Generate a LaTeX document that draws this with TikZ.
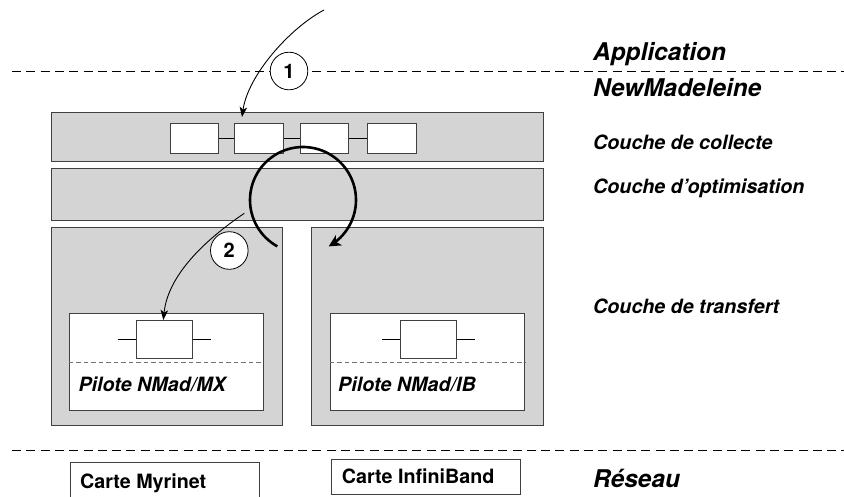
\documentclass[tikz,border=0pt]{standalone}
\usepackage{fontspec}
\setmainfont{TeX Gyre Heros}
\usetikzlibrary{arrows.meta}
\begin{document}
\begin{tikzpicture}[x=1pt,y=-1pt,
  bar/.style={draw=black!75, line width=0.8pt, fill=black!17, inner sep=0pt},
  wbox/.style={draw=black!75, line width=0.8pt, fill=white, inner sep=0pt},
  sep/.style={draw=black, line width=0.8pt, dash pattern=on 9pt off 5.3pt},
  insep/.style={draw=black!55, line width=0.7pt, dash pattern=on 4.5pt off 3pt},
  link/.style={draw=black, line width=0.7pt},
  lab/.style={inner sep=0pt, anchor=base west, font=\fontsize{24.4}{28}\selectfont\bfseries\itshape},
  sublab/.style={inner sep=0pt, anchor=base west, font=\fontsize{19.7}{24}\selectfont\bfseries\itshape},
  cardtxt/.style={inner sep=0pt, anchor=base west, font=\fontsize{19.7}{24}\selectfont\bfseries},
  numc/.style={circle, draw=black, line width=0.8pt, fill=white, minimum size=37.6pt, inner sep=0pt, font=\fontsize{20}{24}\selectfont\bfseries},
  thinarrow/.style={draw=black, line width=0.9pt, -{Stealth[length=10pt,width=7.5pt,inset=2.5pt]}},
  thickarrow/.style={draw=black, line width=2.6pt, -{Stealth[length=12pt,width=12pt,inset=3.5pt]}}
]
\useasboundingbox (0,0) rectangle (844,496);

% separators
\coordinate (d1l) at (12,71);
\coordinate (d1r) at (844,71);
\coordinate (d2l) at (12,450.5);
\coordinate (d2r) at (844,450.5);
\draw[sep] (d1l) -- (d1r);
\draw[sep] (d2l) -- (d2r);

% layer bars
\node[bar, minimum width=492pt, minimum height=49pt] (collecte) at (297,136.5) {};
\node[bar, minimum width=492pt, minimum height=52.5pt] (optim) at (297,194.25) {};
\node[bar, minimum width=231pt, minimum height=197.5pt] (trL) at (166.5,326.25) {};
\node[bar, minimum width=231.5pt, minimum height=197.5pt] (trR) at (427.25,326.25) {};

% collect boxes
\node[wbox, minimum width=48.7pt, minimum height=30pt] (b1) at (194.3,138.3) {};
\node[wbox, minimum width=48.7pt, minimum height=30pt] (b2) at (259,138.3) {};
\node[wbox, minimum width=48.7pt, minimum height=30pt] (b3) at (324.5,138.3) {};
\node[wbox, minimum width=48.7pt, minimum height=30pt] (b4) at (391.7,138.3) {};
\draw[link] (b1) -- (b2);
\draw[link] (b2) -- (b3);
\draw[link] (b3) -- (b4);

% driver boxes
\node[wbox, minimum width=194pt, minimum height=97.4pt] (drvL) at (166.3,362) {};
\node[wbox, minimum width=194.3pt, minimum height=97.4pt] (drvR) at (427.2,362) {};
\draw[insep] (drvL.west) -- (drvL.east);
\draw[insep] (drvR.west) -- (drvR.east);

\node[wbox, minimum width=55.6pt, minimum height=37.6pt] (qL) at (164.5,339.5) {};
\node[wbox, minimum width=56pt, minimum height=37.6pt] (qR) at (428.7,339.5) {};
\coordinate (qLa) at (117.7,339.5);
\coordinate (qLb) at (211,339.5);
\coordinate (qRa) at (382.3,339.5);
\coordinate (qRb) at (475,339.5);
\draw[link] (qLa) -- (qL.west);
\draw[link] (qL.east) -- (qLb);
\draw[link] (qRa) -- (qR.west);
\draw[link] (qR.east) -- (qRb);

\node[sublab] (pMX) at (78.3,391.7) {Pilote NMad/MX};
\node[sublab] (pIB) at (338,391.7) {Pilote NMad/IB};

% cards
\node[wbox, minimum width=188.6pt, minimum height=38pt] (cMy) at (165,481.3) {};
\node[wbox, minimum width=189pt, minimum height=35pt] (cIB) at (426.2,476.8) {};
\node[cardtxt] (tMy) at (80,488.3) {Carte Myrinet};
\node[cardtxt] (tIB) at (341.7,483.3) {Carte InfiniBand};

% labels
\node[lab] (lApp) at (593,60) {Application};
\node[lab] (lNM) at (593,96.7) {NewMadeleine};
\node[sublab] (lCol) at (593,149.3) {Couche de collecte};
\node[sublab] (lOpt) at (593,193.3) {Couche d’optimisation};
\node[sublab] (lTr) at (593,313.3) {Couche de transfert};
\node[lab] (lRes) at (593,487.3) {Réseau};

% numbered circles
\node[numc] (c1) at (289,71) {1};
\node[numc] (c2) at (229.3,250.5) {2};

% arrows
\coordinate (a1s) at (324,10);
\coordinate (a1e) at (242,117);
\draw[thinarrow] (a1s) .. controls (290,28) and (248,75) .. (a1e);

\coordinate (a2s) at (244.3,213.3);
\coordinate (a2e) at (163.3,320);
\draw[thinarrow] (a2s) .. controls (205,240) and (168,275) .. (a2e);

\draw[thickarrow] plot[domain=119:421, samples=80] ({303+53*cos(\x)}, {200+53*sin(\x)});

\end{tikzpicture}
\end{document}
